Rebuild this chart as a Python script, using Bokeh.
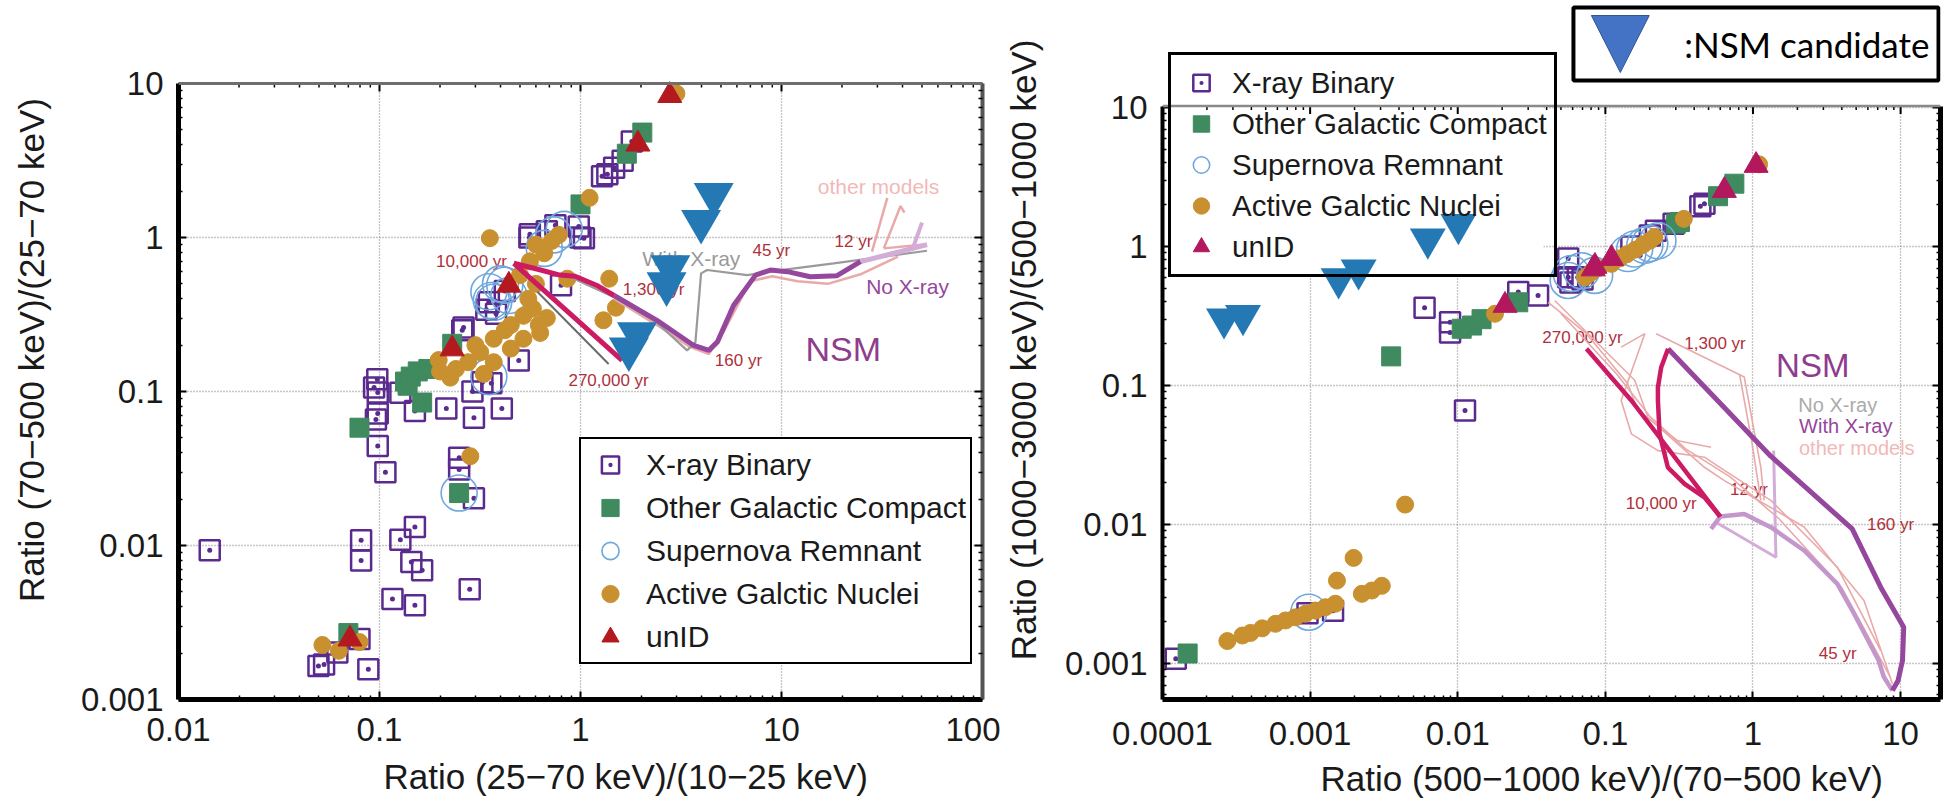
import math
from bokeh.plotting import figure
from bokeh.layouts import row
from bokeh.models import (LogAxis, FixedTicker, CustomJSTickFormatter, Legend, LegendItem,
                          Label, BoxAnnotation, PolyAnnotation, Range1d, Span, Title)
from bokeh.embed import file_html
from bokeh.resources import INLINE

# ------------------------------------------------------------------ data: left panel
L_XTICKS = [0.01, 0.1, 1, 10, 100]
L_XLABELS = ["0.01", "0.1", "1", "10", "100"]
L_YTICKS = [0.001, 0.01, 0.1, 1, 10]
L_YLABELS = ["0.001", "0.01", "0.1", "1", "10"]

L_XRB_X = [0.0143, 0.081, 0.081, 0.127, 0.150, 0.144, 0.163, 0.116, 0.150, 0.281,
           0.053, 0.0497, 0.0617, 0.088, 0.0795, 0.098, 0.107, 0.096, 0.098, 0.098,
           0.127, 0.150, 0.215, 0.295, 0.406, 0.249, 0.249, 0.295, 0.258, 0.262,
           0.0975, 0.094, 0.493, 0.325, 0.36, 0.29, 0.35, 0.34, 0.56, 0.68,
           0.557, 1.0, 0.75, 0.8, 0.98, 1.04, 1.28, 1.36, 1.47, 1.62, 1.8, 0.42, 0.38]
L_XRB_Y = [0.0093, 0.0108, 0.0080, 0.0109, 0.0132, 0.0078, 0.0069, 0.0045, 0.0041, 0.0052,
           0.00169, 0.00165, 0.00202, 0.00157, 0.00247, 0.0442, 0.0299, 0.0659, 0.072, 0.0984,
           0.098, 0.0748, 0.0775, 0.0676, 0.0775, 0.0371, 0.0311, 0.0203, 0.25, 0.26,
           0.12, 0.106, 0.159, 0.115, 0.113, 0.10, 0.38, 0.34, 1.05, 1.1,
           1.0, 1.0, 1.2, 0.49, 1.18, 0.99, 2.5, 2.57, 2.84, 3.15, 4.2, 0.45, 0.32]
L_OGC_X = [0.0795, 0.163, 0.138, 0.134, 0.143, 0.155, 0.23, 1.0, 1.7, 2.03, 0.07, 0.249, 0.175]
L_OGC_Y = [0.0582, 0.0848, 0.109, 0.116, 0.125, 0.135, 0.204, 1.64, 3.5, 4.8, 0.0027, 0.0219, 0.14]
L_SNR_X = [0.35, 0.37, 0.40, 0.44, 0.35, 0.736, 0.83, 0.66, 0.249, 0.42, 0.36]
L_SNR_Y = [0.444, 0.38, 0.50, 0.42, 0.125, 1.04, 1.13, 0.85, 0.0219, 0.49, 0.39]
L_AGN_X = [0.354, 1.11, 3.0, 1.39, 1.50, 1.30, 0.86, 0.283, 0.0628, 0.0795, 0.052,
           0.197, 0.225, 0.276, 0.317, 0.37, 0.45, 0.52, 0.58, 0.63, 0.52, 0.37, 0.45,
           0.78, 0.66, 0.56, 0.50, 0.60, 0.72, 0.20, 0.24, 0.30, 0.55, 0.60, 0.68, 0.62, 0.42, 0.33]
L_AGN_Y = [0.99, 1.81, 8.6, 0.54, 0.35, 0.29, 0.54, 0.038, 0.00207, 0.00236, 0.00226,
           0.16, 0.123, 0.155, 0.18, 0.22, 0.27, 0.31, 0.345, 0.24, 0.22, 0.155, 0.19,
           1.04, 0.79, 0.70, 0.57, 0.90, 0.95, 0.135, 0.14, 0.20, 0.40, 0.50, 0.30, 0.27, 0.25, 0.13]
L_UNID_X = [2.78, 1.93, 0.44, 0.23, 0.0713]
L_UNID_Y = [8.35, 4.04, 0.49, 0.189, 0.00247]
L_CAND_X = [4.6, 3.98, 2.8, 2.68, 1.91, 1.74]
L_CAND_Y = [1.9, 1.27, 0.645, 0.50, 0.237, 0.189]

# NSM model tracks (left)
L_MAG1_X = [0.466, 1.61]
L_MAG1_Y = [0.68, 0.159]
L_MAG2_X = [0.466, 0.62, 0.79, 0.94, 1.2, 1.47]
L_MAG2_Y = [0.68, 0.62, 0.57, 0.56, 0.49, 0.42]
L_PURP_X = [1.47, 2.4, 3.66, 4.35, 4.8, 5.78, 7.43, 8.8, 10.7, 13.9, 18.9, 24.7]
L_PURP_Y = [0.42, 0.29, 0.199, 0.185, 0.21, 0.363, 0.57, 0.615, 0.60, 0.556, 0.565, 0.697]
L_LPURP_X = [24.7, 36.2, 45.0, 53.0]
L_LPURP_Y = [0.697, 0.79, 0.85, 0.90]
L_LPURP2_X = [45.0, 50.0]
L_LPURP2_Y = [0.85, 1.25]
L_GRAY1_X = [0.61, 1.38]
L_GRAY1_Y = [0.444, 0.151]
L_GRAY2_X = [0.9, 1.47, 2.4, 3.39, 3.73, 3.98, 4.27, 6.74, 9.5, 18.2, 53.0]
L_GRAY2_Y = [0.55, 0.41, 0.28, 0.185, 0.209, 0.585, 0.615, 0.57, 0.61, 0.68, 0.82]
L_PINK_X = [[1.47, 2.4, 3.5, 4.35, 5.2, 7.0, 9.0, 12.0, 17.0, 25.0, 38.0],
            [28.2, 33.6], [32.3, 39.1, 40.9], [32.3, 51.2]]
L_PINK_Y = [[0.40, 0.27, 0.195, 0.175, 0.25, 0.52, 0.56, 0.52, 0.50, 0.58, 0.75],
            [0.81, 1.81], [0.85, 1.6, 1.45], [0.85, 0.90]]

L_AGE_TXT = ["10,000 yr", "1,300 yr", "270,000 yr", "160 yr", "45 yr", "12 yr"]
L_AGE_X = [0.287, 2.31, 1.38, 6.11, 8.9, 22.8]
L_AGE_Y = [0.697, 0.457, 0.118, 0.160, 0.822, 0.942]

# ------------------------------------------------------------------ data: right panel
R_XTICKS = [0.0001, 0.001, 0.01, 0.1, 1, 10]
R_XLABELS = ["0.0001", "0.001", "0.01", "0.1", "1", "10"]
R_YTICKS = [0.001, 0.01, 0.1, 1, 10]
R_YLABELS = ["0.001", "0.01", "0.1", "1", "10"]

R_XRB_X = [0.000123, 0.00096, 0.00143, 0.0112, 0.00596, 0.00887, 0.00887, 0.035, 0.0257, 0.056,
           0.056, 0.058, 0.07, 0.065, 0.469, 0.44, 0.29, 0.15, 0.20, 0.22]
R_XRB_Y = [0.00108, 0.0023, 0.0024, 0.066, 0.362, 0.285, 0.241, 0.444, 0.47, 0.82,
           0.60, 0.55, 0.58, 0.60, 2.03, 1.95, 1.46, 1.0, 1.2, 1.3]
R_OGC_X = [0.000148, 0.00354, 0.01064, 0.0125, 0.0145, 0.0257, 0.30, 0.58, 0.748, 0.32]
R_OGC_Y = [0.00118, 0.162, 0.256, 0.27, 0.30, 0.397, 1.46, 2.3, 2.83, 1.5]
R_SNR_X = [0.227, 0.185, 0.158, 0.142, 0.0689, 0.0587, 0.0846, 0.056, 0.00098, 0.2]
R_SNR_Y = [1.10, 1.02, 0.96, 0.89, 0.67, 0.64, 0.62, 0.57, 0.00234, 1.05]
R_AGN_X = [0.000275, 0.000348, 0.000395, 0.000474, 0.000583, 0.000681, 0.000796, 0.000929,
           0.001086, 0.001268, 0.001483,
           0.00152, 0.00197, 0.00224, 0.00262, 0.00306, 0.0044, 0.01788, 0.073, 0.34, 1.1,
           0.08, 0.09, 0.11, 0.125, 0.14, 0.16, 0.18, 0.20, 0.215]
R_AGN_Y = [0.00145, 0.00159, 0.00166, 0.00179, 0.00193, 0.00204, 0.00215, 0.00228,
           0.00240, 0.00254, 0.00269,
           0.00395, 0.00575, 0.00317, 0.00335, 0.00362, 0.0139, 0.328, 0.60, 1.58, 3.9,
           0.65, 0.70, 0.75, 0.82, 0.88, 0.95, 1.03, 1.10, 1.17]
R_UNID_X = [1.05, 0.64, 0.11, 0.0827, 0.0209, 0.085]
R_UNID_Y = [3.83, 2.53, 0.82, 0.69, 0.377, 0.72]
R_CAND_X = [0.000261, 0.000351, 0.00156, 0.00213, 0.00627, 0.0101]
R_CAND_Y = [0.302, 0.319, 0.586, 0.68, 1.135, 1.44]

R_MAG1_X = [0.0745, 0.15, 0.60]
R_MAG1_Y = [0.184, 0.078, 0.0114]
R_MAG2_X = [0.266, 0.239, 0.227, 0.227, 0.233, 0.265, 0.344, 0.469, 0.60]
R_MAG2_Y = [0.184, 0.1355, 0.097, 0.078, 0.0449, 0.0258, 0.0196, 0.0157, 0.0114]
R_PURP_X = [0.266, 1.32, 4.7, 7.33, 10.5, 10.3, 9.6, 8.8]
R_PURP_Y = [0.184, 0.031, 0.0093, 0.00354, 0.00182, 0.00105, 0.00075, 0.00064]
R_LPURP_X = [8.8, 7.7, 7.1, 4.84, 3.73, 2.22, 1.32, 0.873, 0.60, 0.52]
R_LPURP_Y = [0.00064, 0.0008, 0.00105, 0.00228, 0.00374, 0.0065, 0.00957, 0.0119, 0.0114, 0.0093]
R_LPURP2_X = [0.55, 1.43, 1.38]
R_LPURP2_Y = [0.0105, 0.00582, 0.034]
R_PINK_X = [
    [0.041, 0.0745, 0.142, 0.166, 0.31, 0.52],
    [0.0454, 0.158, 0.194, 0.469, 0.64, 2.22, 5.65, 8.8],
    [0.221, 0.873, 1.13, 1.19],
    [0.128, 0.185, 0.128, 0.15, 0.227, 0.469, 0.64, 1.32, 3.73, 7.33],
    [0.81, 0.98, 1.13],
    [0.05, 0.12, 0.2, 0.35, 0.7, 1.5, 4.0, 8.5],
]
R_PINK_Y = [
    [0.397, 0.236, 0.103, 0.066, 0.040, 0.036],
    [0.409, 0.109, 0.059, 0.0258, 0.0207, 0.0096, 0.00284, 0.000715],
    [0.236, 0.115, 0.0258, 0.0149],
    [0.189, 0.236, 0.078, 0.0449, 0.034, 0.0305, 0.0245, 0.0149, 0.00493, 0.00124],
    [0.121, 0.040, 0.0149],
    [0.33, 0.12, 0.06, 0.035, 0.022, 0.011, 0.0035, 0.0008],
]
R_AGE_TXT = ["270,000 yr", "1,300 yr", "12 yr", "10,000 yr", "160 yr", "45 yr"]
R_AGE_X = [0.070, 0.553, 0.94, 0.239, 8.55, 3.75]
R_AGE_Y = [0.221, 0.200, 0.0179, 0.01416, 0.0100, 0.00118]

LEGEND_LABELS = ["X-ray Binary", "Other Galactic Compact", "Supernova Remnant",
                 "Active Galctic Nuclei", "unID"]

# ------------------------------------------------------------------ styles / geometry
FONT = "Liberation Sans"
C_XRB = "#5b2a8e"
C_OGC = "#3f8a5f"
C_SNR = "#6fa8dc"
C_AGN = "#c8902e"
C_UNID = "#b3191f"
C_UNID_R = "#b3185e"
C_CAND = "#2479b5"
C_MAG = "#cc1a63"
C_PURP = "#94479c"
C_LPURP = "#d4acd8"
C_GRAY = "#9a9a9a"
C_PINK = "#eaa9a9"
C_AGE = "#b0303a"
C_NSM = "#8e3c8e"

HEIGHT = 811
FRAME_BOTTOM = 699            # shared frame bottom of both panels (page px)
MB_BOTTOM = HEIGHT - FRAME_BOTTOM

# pixel geometry of the two panels (page px): frame left, px per decade, etc.
L_GEO = dict(x0=178, xdec=201, xlog0=-2, y_top=83, ydec=(FRAME_BOTTOM - 83) / 4, ylog_top=1)
R_GEO = dict(x0=1160, xdec=148, xlog0=-4, y_top=107, ydec=139, ylog_top=1)


def px_to_data(geo, X, Y):
    return (10 ** ((X - geo["x0"]) / geo["xdec"] + geo["xlog0"]),
            10 ** (geo["ylog_top"] - (Y - geo["y_top"]) / geo["ydec"]))


def minor_list(ticks, hi_limit=None):
    lo = int(round(math.log10(min(ticks)))) - 1
    hi = int(round(math.log10(max(ticks)))) + 1
    out = [m * 10.0 ** k for k in range(lo, hi + 1) for m in range(2, 10)]
    if hi_limit is not None:
        out = [v for v in out if v <= hi_limit]
    return out


def fmt(ticks, labels):
    return CustomJSTickFormatter(args=dict(tv=ticks, tl=labels), code="""
        for (let i = 0; i < tv.length; i++) {
            if (Math.abs(Math.log10(tv[i]) - Math.log10(tick)) < 1e-6) { return tl[i]; }
        }
        return "";
    """)


def style_axis(ax, lw, color, labels):
    ax.axis_line_width = lw
    ax.axis_line_color = color
    ax.major_tick_in = 8
    ax.major_tick_out = 0
    ax.minor_tick_in = 4
    ax.minor_tick_out = 0
    ax.major_tick_line_color = "black"
    ax.major_tick_line_width = 2
    ax.minor_tick_line_color = "black"
    ax.minor_tick_line_width = 1.5
    if labels:
        ax.major_label_text_font = FONT
        ax.major_label_text_font_size = "33px"
        ax.major_label_text_color = "#1a1a1a"
    else:
        ax.major_label_text_font_size = "0px"
        ax.major_label_standoff = 0
        ax.axis_label = None


def make_panel(width, mbl, mbr, xr, yr, ybounds, xt, xl, yt, yl, ylabel, ylab_standoff,
               edges, xstand, ystand, xlabel, xlabel_offset, title_standoff, ydec):
    p = figure(width=width, height=HEIGHT, x_axis_type="log", y_axis_type="log",
               x_range=Range1d(*xr), y_range=Range1d(*yr), title=None,
               output_backend="svg", toolbar_location=None,
               min_border_left=mbl, min_border_right=mbr,
               min_border_top=0, min_border_bottom=MB_BOTTOM)
    p.outline_line_color = None
    p.background_fill_color = "white"
    p.border_fill_color = "white"
    xtick = FixedTicker(ticks=xt, minor_ticks=minor_list(xt))
    ytick = FixedTicker(ticks=yt, minor_ticks=minor_list(yt, ybounds[1]))

    xa = p.xaxis[0]
    ya = p.yaxis[0]
    xa.ticker = xtick
    ya.ticker = ytick
    xa.formatter = fmt(xt, xl)
    ya.formatter = fmt(yt, yl)
    style_axis(xa, edges["bottom"][0], edges["bottom"][1], True)
    style_axis(ya, edges["left"][0], edges["left"][1], True)
    ya.bounds = ybounds
    xa.major_label_standoff = xstand
    ya.major_label_standoff = ystand
    xa.axis_label = None
    ya.axis_label = ylabel
    ya.axis_label_text_font = FONT
    ya.axis_label_text_font_size = "35px"
    ya.axis_label_text_font_style = "normal"
    ya.axis_label_text_color = "#1a1a1a"
    ya.axis_label_standoff = ylab_standoff

    right = LogAxis(ticker=ytick, formatter=CustomJSTickFormatter(code='return "";'),
                    bounds=ybounds)
    style_axis(right, edges["right"][0], edges["right"][1], False)
    p.add_layout(right, "right")

    for g, t in ((p.xgrid, xtick), (p.ygrid, ytick)):
        g.ticker = t
        g.grid_line_color = "#8c8c8c"
        g.grid_line_dash = "1 2"
        g.grid_line_width = 1.3

    top_val = ybounds[1]
    # white cover above the visible frame top (hides grid lines there)
    p.add_layout(BoxAnnotation(bottom=top_val, top=yr[1] * 100, fill_color="white",
                               fill_alpha=1.0, line_color=None, level="underlay"))
    # top frame edge with inward ticks
    p.add_layout(Span(location=top_val, dimension="width", line_color=edges["top"][1],
                      line_width=edges["top"][0]))
    majors = [t for t in xt if xr[0] <= t <= xr[1]]
    minors = [t for t in minor_list(xt) if xr[0] < t < xr[1]]
    p.segment(x0=majors, x1=majors, y0=[top_val] * len(majors),
              y1=[top_val * 10 ** (-8 / ydec)] * len(majors), line_color="black", line_width=2)
    p.segment(x0=minors, x1=minors, y0=[top_val] * len(minors),
              y1=[top_val * 10 ** (-4 / ydec)] * len(minors), line_color="black", line_width=1.5)

    p.add_layout(Title(text=xlabel, align="left", offset=xlabel_offset, text_font=FONT,
                       text_font_size="35px", text_font_style="normal",
                       text_color="#1a1a1a", standoff=title_standoff), "below")
    return p


def add_points(p, d, unid_color):
    rs = []
    rs.append(p.scatter(d["xrb"][0], d["xrb"][1], marker="square_dot", size=20, fill_color=None,
                        line_color=C_XRB, line_width=2.5))
    rs.append(p.scatter(d["ogc"][0], d["ogc"][1], marker="square", size=19, fill_color=C_OGC,
                        line_color=C_OGC))
    rs.append(p.scatter(d["snr"][0], d["snr"][1], marker="circle", size=36, fill_color=None,
                        line_color=C_SNR, line_width=1.6))
    rs.append(p.scatter(d["agn"][0], d["agn"][1], marker="circle", size=17, fill_color=C_AGN,
                        line_color=C_AGN))
    rs.append(p.scatter(d["unid"][0], d["unid"][1], marker="triangle", size=24,
                        fill_color=unid_color, line_color=unid_color))
    return rs


def add_legend(p, rs, loc, font_size, standoff, glyph_w, glyph_h, pad, border_w, bg_alpha):
    items = [LegendItem(label=lab, renderers=[r]) for lab, r in zip(LEGEND_LABELS, rs)]
    leg = Legend(items=items, location=loc, orientation="vertical",
                 glyph_width=glyph_w, glyph_height=glyph_h, spacing=0, padding=pad, margin=0,
                 label_standoff=standoff, label_text_font=FONT,
                 label_text_font_size=font_size, label_text_color="#1a1a1a",
                 border_line_color="black", border_line_width=border_w, border_line_alpha=1.0,
                 background_fill_color="white", background_fill_alpha=bg_alpha)
    p.add_layout(leg)


def add_text(p, x, y, text, color, size, level="underlay", font=FONT, align="center"):
    p.add_layout(Label(x=x, y=y, text=text, text_color=color, text_font=font,
                       text_font_size=size, text_align=align, text_baseline="middle",
                       level=level))


# ------------------------------------------------------------------ left panel
L_YR = (10 ** -3, 10 ** (1 + 83 / L_GEO["ydec"]))
left = make_panel(1000, 178, 18, (0.01, 100), L_YR, (0.001, 10),
                  L_XTICKS, L_XLABELS, L_YTICKS, L_YLABELS,
                  "Ratio (70\u2212500 keV)/(25\u221270 keV)", 27,
                  dict(left=(5, "black"), bottom=(5, "black"), top=(3, "#6e6e6e"),
                       right=(4, "#555555")), 18, 15,
                  "Ratio (25\u221270 keV)/(10\u221225 keV)", 205, 22, L_GEO["ydec"])

l_rs = add_points(left, dict(xrb=(L_XRB_X, L_XRB_Y), ogc=(L_OGC_X, L_OGC_Y),
                             snr=(L_SNR_X, L_SNR_Y), agn=(L_AGN_X, L_AGN_Y),
                             unid=(L_UNID_X, L_UNID_Y)), C_UNID)

for xs, ys in zip(L_PINK_X, L_PINK_Y):
    left.line(xs, ys, line_color=C_PINK, line_width=2.5)
left.line(L_GRAY1_X, L_GRAY1_Y, line_color="#6a6a6a", line_width=2)
left.line(L_GRAY2_X, L_GRAY2_Y, line_color=C_GRAY, line_width=2.2)
left.line(L_LPURP_X, L_LPURP_Y, line_color=C_LPURP, line_width=5)
left.line(L_LPURP2_X, L_LPURP2_Y, line_color=C_LPURP, line_width=4)
left.line(L_PURP_X, L_PURP_Y, line_color=C_PURP, line_width=5)
left.line(L_MAG2_X, L_MAG2_Y, line_color=C_MAG, line_width=5)
left.line(L_MAG1_X, L_MAG1_Y, line_color=C_MAG, line_width=5)

left.scatter(L_CAND_X, L_CAND_Y, marker="inverted_triangle", size=40, fill_color=C_CAND,
             line_color=None)

for t, x, y in zip(L_AGE_TXT, L_AGE_X, L_AGE_Y):
    add_text(left, x, y, t, C_AGE, "17px")
add_text(left, 3.56, 0.73, "With X-ray", C_GRAY, "21px")
add_text(left, 42.4, 0.479, "No X-ray", C_PURP, "21px")
add_text(left, 30.4, 2.15, "other models", "#f2b8b8", "21px")
add_text(left, 20.3, 0.188, "NSM", C_NSM, "34px")

add_legend(left, l_rs, (401, FRAME_BOTTOM - 664), "30px", 11, 50, 43, 4, 2.5, 1.0)

# ------------------------------------------------------------------ right panel
R_YR = (10 ** (1 - (FRAME_BOTTOM - 107) / 139), 10 ** (1 + 107 / 139))
R_TOP = 10 ** 1.01
right = make_panel(944, 160, 4, (0.0001, 10 ** (-4 + 780 / 148)), R_YR, (R_YR[0], R_TOP),
                   R_XTICKS, R_XLABELS, R_YTICKS, R_YLABELS,
                   "Ratio (1000\u22123000 keV)/(500\u22121000 keV)", 19,
                   dict(left=(4, "black"), bottom=(5, "black"), top=(2.5, "#8a8a8a"),
                        right=(5, "black")), 22, 15,
                   "Ratio (500\u22121000 keV)/(70\u2212500 keV)", 158, 18, 139)

# white backing for the legend area, below the markers (candidates overlap the legend)
wx0, wy0 = px_to_data(R_GEO, 1168, 59)
wx1, wy1 = px_to_data(R_GEO, 1542, 275)
right.add_layout(BoxAnnotation(left=wx0, right=wx1, top=wy0, bottom=wy1, fill_color="white",
                               fill_alpha=1.0, line_color=None, level="underlay"))

r_rs = add_points(right, dict(xrb=(R_XRB_X, R_XRB_Y), ogc=(R_OGC_X, R_OGC_Y),
                              snr=(R_SNR_X, R_SNR_Y), agn=(R_AGN_X, R_AGN_Y),
                              unid=(R_UNID_X, R_UNID_Y)), C_UNID_R)

for xs, ys in zip(R_PINK_X, R_PINK_Y):
    right.line(xs, ys, line_color=C_PINK, line_width=1.6)
right.line(R_LPURP2_X, R_LPURP2_Y, line_color=C_LPURP, line_width=3)
right.line(R_LPURP_X, R_LPURP_Y, line_color="#c497cc", line_width=4.5)
right.line(R_PURP_X, R_PURP_Y, line_color=C_PURP, line_width=5)
right.line(R_MAG2_X, R_MAG2_Y, line_color=C_MAG, line_width=4.5)
right.line(R_MAG1_X, R_MAG1_Y, line_color=C_MAG, line_width=4.5)

right.scatter(R_CAND_X, R_CAND_Y, marker="inverted_triangle", size=36, fill_color=C_CAND,
              line_color=None)

for t, x, y in zip(R_AGE_TXT, R_AGE_X, R_AGE_Y):
    add_text(right, x, y, t, C_AGE, "17px")
add_text(right, 2.54, 0.139, "NSM", C_NSM, "33px")
add_text(right, 3.75, 0.0718, "No X-ray", "#ababab", "20px")
add_text(right, 4.25, 0.0515, "With X-ray", C_PURP, "20px")
add_text(right, 5.05, 0.0358, "other models", "#f2b8b8", "20px")

add_legend(right, r_rs, (6, FRAME_BOTTOM - 277), "29.5px", 8, 46, 41, 7, 3, 0.0)

# NSM candidate key box (top right, above the visible frame)
bx0, by0 = px_to_data(R_GEO, 1572, 7)
bx1, by1 = px_to_data(R_GEO, 1938, 80)
right.add_layout(BoxAnnotation(left=bx0, right=bx1, top=by0, bottom=by1,
                               fill_color="white", fill_alpha=1.0,
                               line_color="black", line_alpha=1.0, line_width=4,
                               level="overlay"))
tx0, ty0 = px_to_data(R_GEO, 1590, 15)
tx1, _ = px_to_data(R_GEO, 1648, 15)
tx2, ty2 = px_to_data(R_GEO, 1619, 72)
right.add_layout(PolyAnnotation(xs=[tx0, tx1, tx2], ys=[ty0, ty0, ty2],
                                fill_color="#4472c4", fill_alpha=1.0,
                                line_color="#2f5597", line_alpha=1.0, line_width=1,
                                level="overlay"))
lx, ly = px_to_data(R_GEO, 1683, 43)
add_text(right, lx, ly, ":NSM candidate", "black", "35px", level="overlay", font="Lato",
         align="left")

layout = row(left, right)
open("out.html", "w").write(file_html(layout, INLINE))
